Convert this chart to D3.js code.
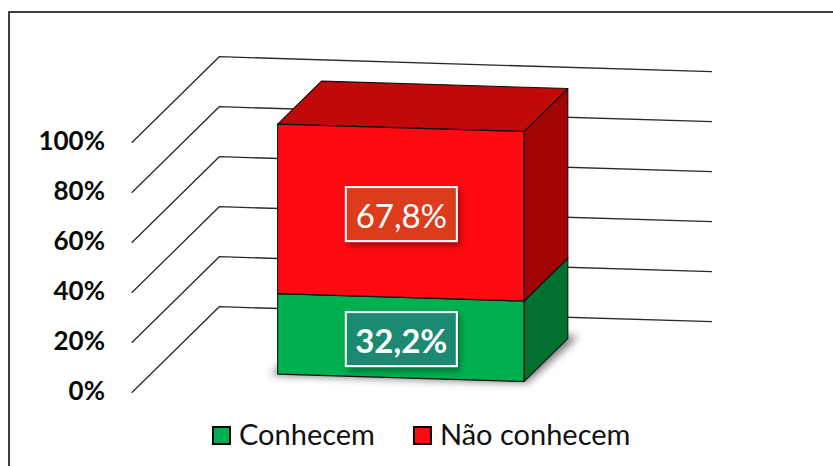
<html>
<head>
<meta charset="utf-8">
<title>Conhecem / Não conhecem</title>
<style>
  body { margin: 0; background: #fff; }
  svg { display: block; font-family: Lato, "Open Sans", sans-serif; }
</style>
</head>
<body>
<svg></svg>
<script src="https://cdn.jsdelivr.net/npm/d3@7/dist/d3.min.js"></script>
<script>
// chart data
var categories = ["Total"];
var seriesNames = ["Conhecem", "Não conhecem"];
var conhecem = [32.2];
var naoConhecem = [67.8];
var valueLabels = [["32,2%"], ["67,8%"]];
var ticks = [0, 20, 40, 60, 80, 100];
var tickLabels = ["0%", "20%", "40%", "60%", "80%", "100%"];

var width = 833, height = 466;
var svg = d3.select("svg").attr("width", width).attr("height", height);

// colours per series: front, side, top, label box
var colors = [
  {front: "#00b050", side: "#02712f", top: "#00913f", label: "#1f8a70", bold: true},
  {front: "#fe0a10", side: "#a20406", top: "#c00a0a", label: "#dc3b1f", bold: false}
];

// oblique 3d projection: u along back wall, v value, d depth (0 front, 1 back)
var ox = 131.7, oy = 392.7;
var DX = 87.6, DY = 86, SL = 0.0304;
var u = d3.scaleBand().domain(categories).range([0, 492.7]).paddingInner(0.5).paddingOuter(0.25);
var v = d3.scaleLinear().domain([0, 100]).range([0, 250]);
var depth = d3.scaleLinear().domain([0, 1]).range([0, 1]);
var boxFront = 0.26, boxBack = 0.76;

function P(uu, vv, dd) {
  var z = depth(dd);
  return [ox + uu + z * DX, oy + uu * SL - v(vv) - z * DY];
}
function poly(pts) { return pts.map(function(p) { return p.join(","); }).join(" "); }

var defs = svg.append("defs");
var blur = defs.append("filter").attr("id", "baseShadow")
  .attr("x", "-20%").attr("y", "-50%").attr("width", "140%").attr("height", "200%");
blur.append("feGaussianBlur").attr("stdDeviation", 4);
var ds = defs.append("filter").attr("id", "lblShadow")
  .attr("x", "-20%").attr("y", "-30%").attr("width", "150%").attr("height", "170%");
ds.append("feDropShadow").attr("dx", 3).attr("dy", 4).attr("stdDeviation", 3)
  .attr("flood-color", "#000").attr("flood-opacity", 0.35);

// outer chart border
svg.append("rect").attr("x", 9).attr("y", 12).attr("width", 840).attr("height", 470)
  .attr("fill", "none").attr("stroke", "#111").attr("stroke-width", 1.6);

// gridlines: side wall then back wall
var uEnd = u.range()[1];
var grid = svg.append("g").attr("fill", "none").attr("stroke", "#2a2a2a").attr("stroke-width", 1.3);
ticks.forEach(function(t) {
  grid.append("polyline")
    .attr("points", poly([P(0, t, 0), P(0, t, 1), P(uEnd, t, 1)]));
});

// value axis labels
svg.append("g").selectAll("text").data(ticks).enter().append("text")
  .attr("x", 105)
  .attr("y", function(t) { return P(0, t, 0)[1] + 1; })
  .attr("text-anchor", "end")
  .attr("dominant-baseline", "middle")
  .attr("font-weight", "bold")
  .attr("font-size", 26)
  .attr("fill", "#0a0a0a")
  .text(function(t, i) { return tickLabels[i]; });

// stacked data
var stack = d3.stack().keys([0, 1])(categories.map(function(c, i) {
  return {0: conhecem[i], 1: naoConhecem[i]};
}));

var bars = svg.append("g");
categories.forEach(function(c, ci) {
  var u0 = u(c), u1 = u(c) + u.bandwidth();
  // soft shadow of base
  bars.append("polygon")
    .attr("points", poly([P(u0 - 6, 0, boxFront - 0.01), P(u1 + 4, 0, boxFront - 0.01),
                          P(u1 + 8, 0, boxBack + 0.03), P(u0, 0, boxBack + 0.03)]))
    .attr("fill", "#000").attr("opacity", 0.55).attr("filter", "url(#baseShadow)");
});

stack.forEach(function(layer, si) {
  layer.forEach(function(seg, ci) {
    var c = categories[ci];
    var u0 = u(c), u1 = u(c) + u.bandwidth();
    var a = seg[0], b = seg[1];
    var col = colors[si];
    var g = bars.append("g").attr("stroke", "#111").attr("stroke-width", 1.1).attr("stroke-linejoin", "round");
    // right side face
    g.append("polygon").attr("fill", col.side)
      .attr("points", poly([P(u1, a, boxFront), P(u1, a, boxBack), P(u1, b, boxBack), P(u1, b, boxFront)]));
    // top face
    g.append("polygon").attr("fill", col.top)
      .attr("points", poly([P(u0, b, boxFront), P(u1, b, boxFront), P(u1, b, boxBack), P(u0, b, boxBack)]));
    // front face
    g.append("polygon").attr("fill", col.front)
      .attr("points", poly([P(u0, a, boxFront), P(u1, a, boxFront), P(u1, b, boxFront), P(u0, b, boxFront)]));
  });
});

// data labels on the front faces
stack.forEach(function(layer, si) {
  layer.forEach(function(seg, ci) {
    var c = categories[ci];
    var cp = P(u(c) + u.bandwidth() / 2, (seg[0] + seg[1]) / 2, boxFront);
    var lg = svg.append("g").attr("transform", "translate(" + cp[0] + "," + (cp[1] + 1.5) + ")");
    lg.append("rect").attr("x", -55).attr("y", -27).attr("width", 111).attr("height", 54)
      .attr("fill", colors[si].label).attr("stroke", "#fff").attr("stroke-width", 2)
      .attr("filter", "url(#lblShadow)");
    lg.append("text").attr("text-anchor", "middle").attr("dominant-baseline", "central")
      .attr("x", 0.5).attr("y", 1)
      .attr("fill", "#fff").attr("font-size", 33)
      .attr("font-weight", colors[si].bold ? "bold" : "normal")
      .text(valueLabels[si][ci]);
  });
});

// legend
var legend = svg.append("g").attr("transform", "translate(212,426)");
var lx = 0;
seriesNames.forEach(function(name, i) {
  var item = legend.append("g").attr("transform", "translate(" + lx + ",0)");
  item.append("rect").attr("x", 1).attr("y", 1).attr("width", 17).attr("height", 17)
    .attr("fill", colors[i].front).attr("stroke", "#000").attr("stroke-width", 2);
  var t = item.append("text").attr("x", 27).attr("y", 19)
    .attr("font-size", 29).attr("fill", "#111").text(name);
  lx += 27 + t.node().getComputedTextLength() + 38;
});
</script>
</body>
</html>
